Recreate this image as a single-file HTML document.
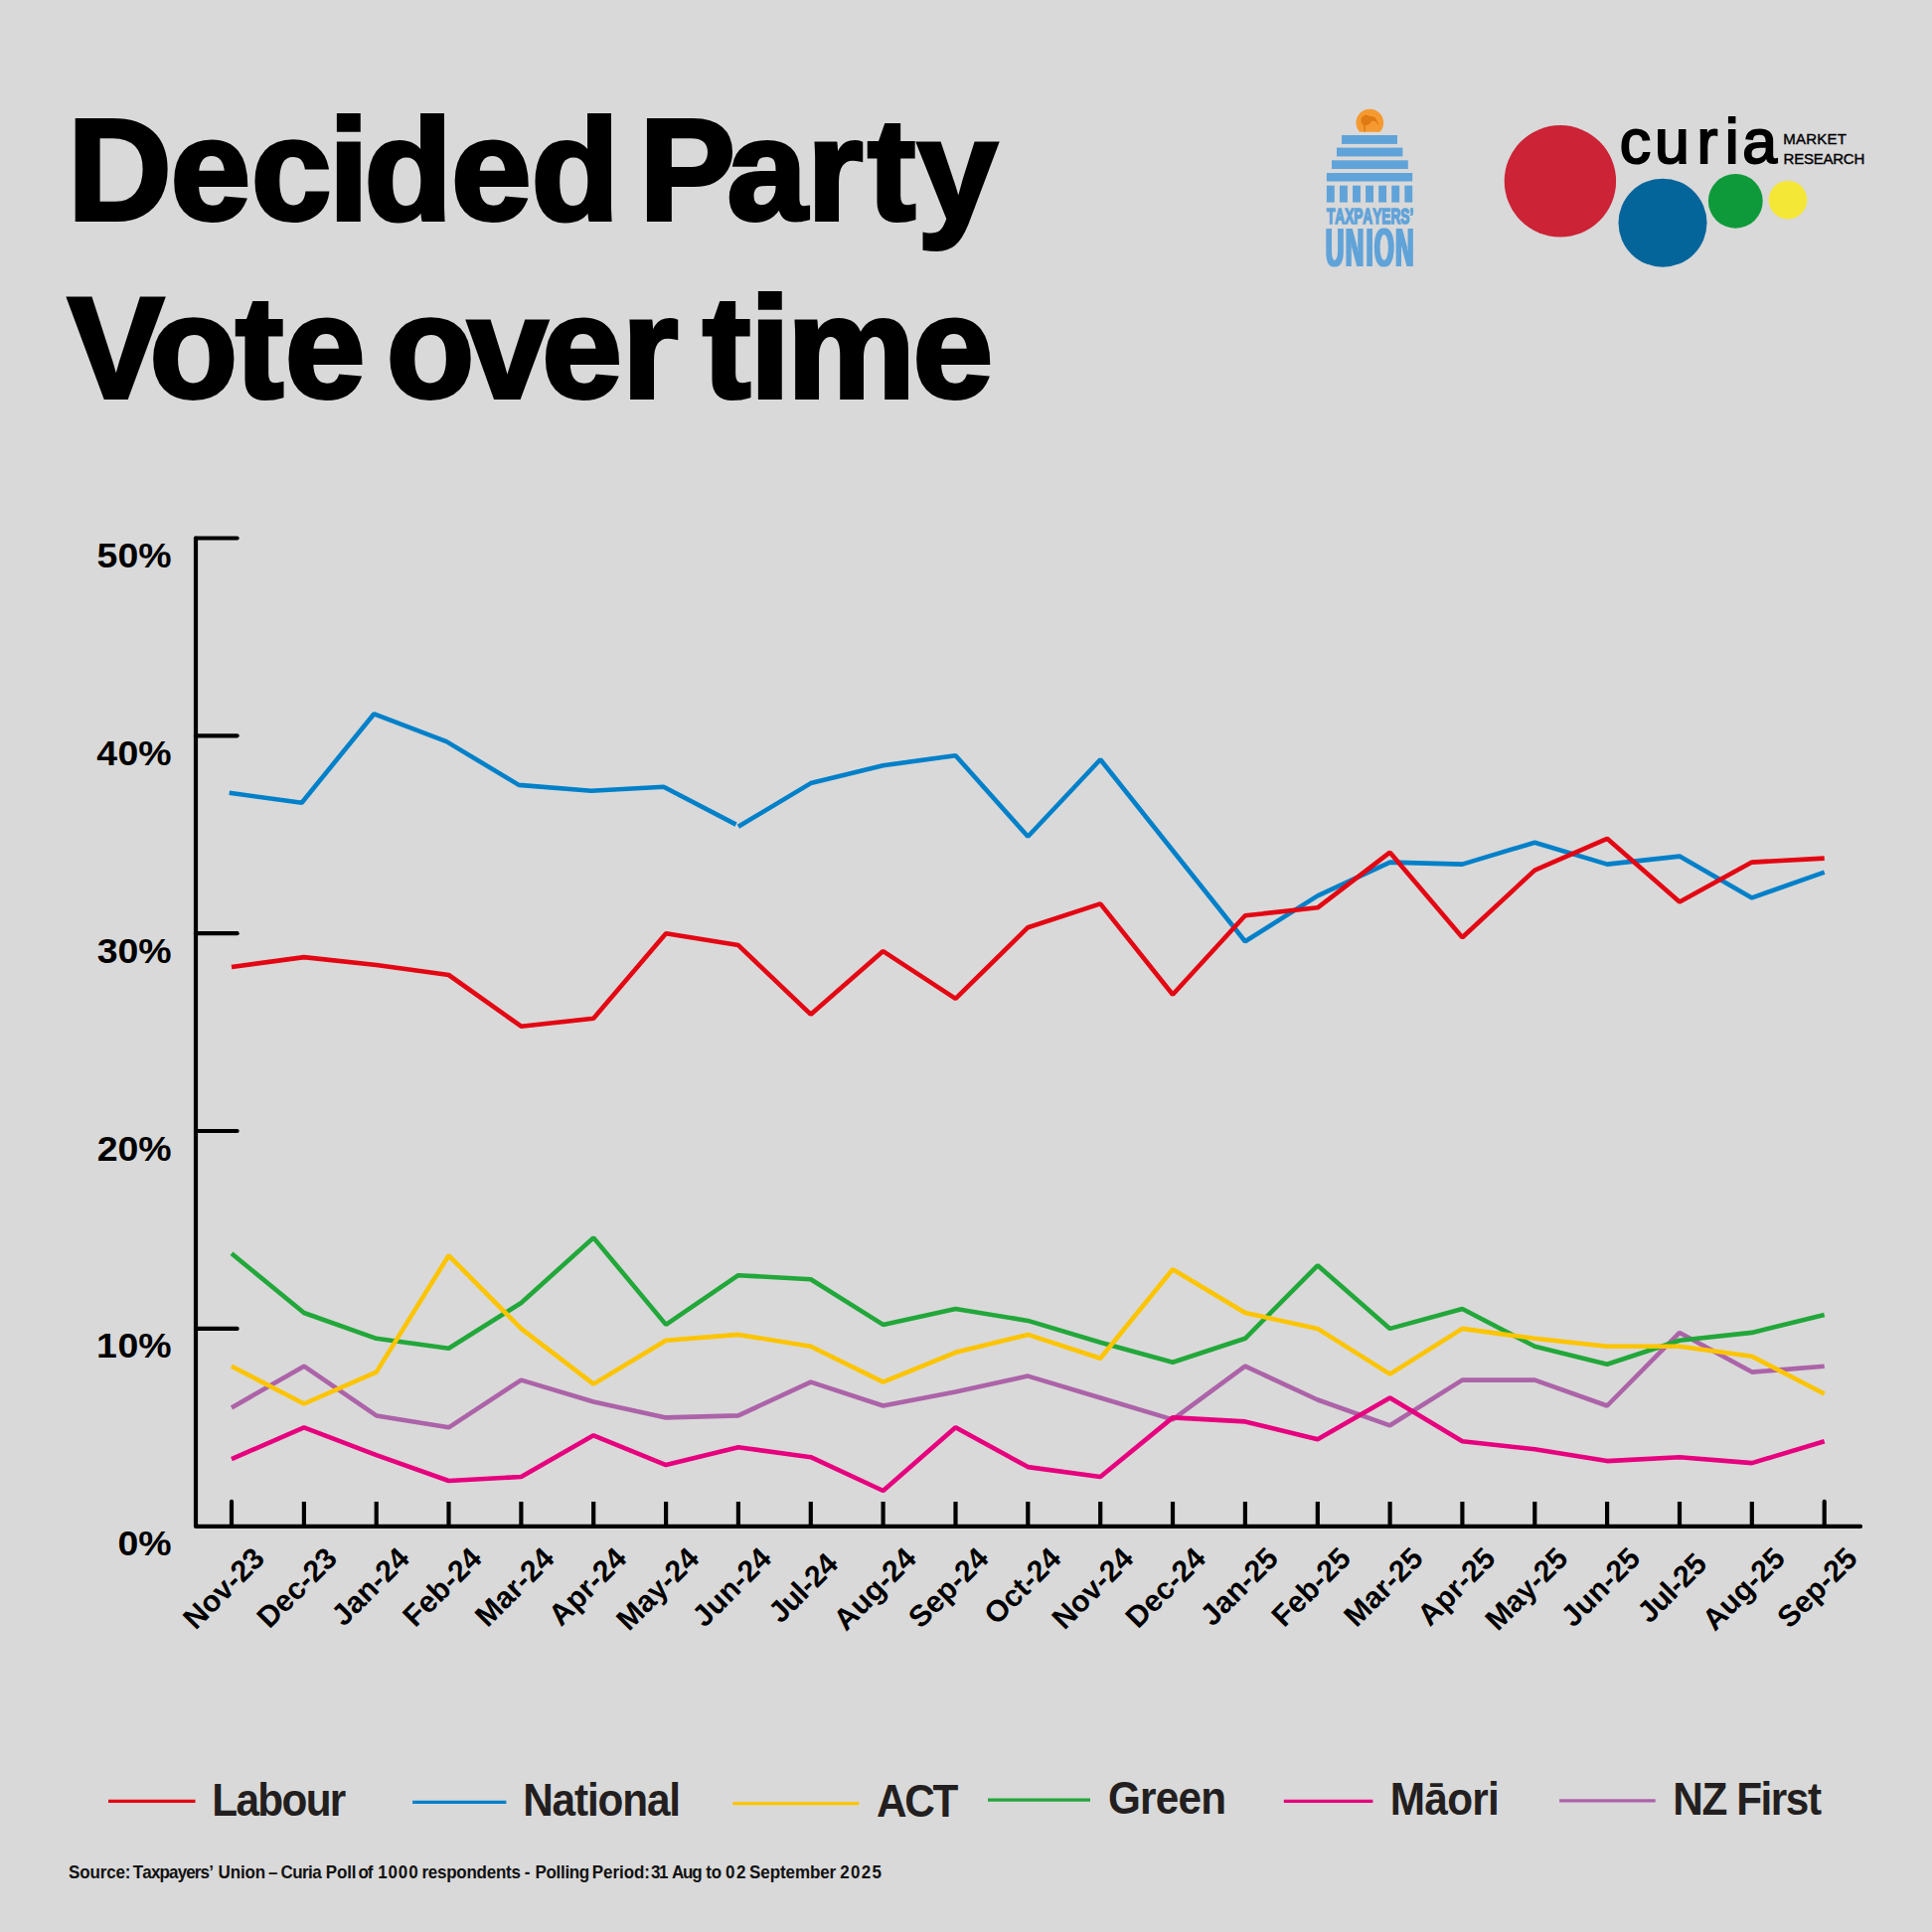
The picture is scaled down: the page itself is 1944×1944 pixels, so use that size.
<!DOCTYPE html>
<html lang="en"><head><meta charset="utf-8"><title>Decided Party Vote over time</title>
<style>html,body{margin:0;padding:0;background:#D9D9D9;}body{width:1944px;height:1944px;overflow:hidden;}svg{display:block;}text{font-family:"Liberation Sans",sans-serif;}</style></head><body>
<svg width="1944" height="1944" viewBox="0 0 1944 1944">
<rect width="1944" height="1944" fill="#D9D9D9"/>
<g font-weight="700" font-size="145" fill="#000" stroke="#000" stroke-width="4" stroke-linejoin="miter" stroke-miterlimit="2" transform="scale(1 1)">
<text x="68.1 171.6 252.8 330.7 366.5 453.9 534.6 633.0 643.3 731.5 812.0 873.1 923.1" y="220.5">Decided Party</text>
<text x="68.2 150.6 236.9 286.7 379.0 388.7 470.6 545.3 626.0 694.5 707.0 754.7 792.0 918.6" y="399.8">Vote over time</text>
</g>
<defs><filter id="dilx" x="-5%" y="-5%" width="110%" height="110%"><feMorphology operator="dilate" radius="2.3 0"/></filter></defs>
<g id="tu">
<clipPath id="coinclip"><rect x="1360" y="105" width="40" height="27.7"/></clipPath>
<g clip-path="url(#coinclip)"><circle cx="1378.3" cy="123.5" r="13.8" fill="#F59A30"/><path d="M1369.5 121.5c0-4 3.2-6.3 6.6-5.6c2 .4 3 1.6 4.6 1.4c1.8-.2 3.3.7 3.9 2.4l3.2 6.6l-4.4-4.6c-1.2.6-2.4.4-3.2-.2c-1.4 3.6-4 5-6.6 4.8l.6 6.4h-1.4l-1-6.8c-1.5-.9-2.3-2.5-2.3-4.400z" fill="#E07A12"/></g>
<rect x="1350.0" y="136.0" width="56.0" height="8.9" fill="#60A3D9"/>
<rect x="1345.0" y="148.6" width="66.4" height="8.8" fill="#60A3D9"/>
<rect x="1340.0" y="161.3" width="76.8" height="8.7" fill="#60A3D9"/>
<rect x="1334.9" y="174.0" width="86.3" height="8.5" fill="#60A3D9"/>
<rect x="1334.90" y="186.7" width="7.9" height="16.9" fill="#60A3D9"/>
<rect x="1347.97" y="186.7" width="7.9" height="16.9" fill="#60A3D9"/>
<rect x="1361.04" y="186.7" width="7.9" height="16.9" fill="#60A3D9"/>
<rect x="1374.11" y="186.7" width="7.9" height="16.9" fill="#60A3D9"/>
<rect x="1387.18" y="186.7" width="7.9" height="16.9" fill="#60A3D9"/>
<rect x="1400.25" y="186.7" width="7.9" height="16.9" fill="#60A3D9"/>
<rect x="1413.32" y="186.7" width="7.9" height="16.9" fill="#60A3D9"/>
<text transform="scale(0.6 1)" x="2224.9" y="225.5" font-weight="700" font-size="22.7" fill="#60A3D9" stroke="#60A3D9" stroke-width="1.3" vector-effect="non-scaling-stroke" letter-spacing="0.06" style="font-kerning:none">TAXPAYERS’</text>
<text transform="scale(0.47 1)" x="2837.7 2880.2 2924.3 2942.1 2987.2" y="267.8" font-weight="700" font-size="54.8" fill="#60A3D9" filter="url(#dilx)">UNION</text>
</g>
<g id="curia">
<circle cx="1569.9" cy="182.3" r="56.2" fill="#CC2336"/>
<circle cx="1673" cy="224.2" r="44.5" fill="#04659B"/>
<circle cx="1746.3" cy="202.3" r="27.4" fill="#0E9A3A"/>
<circle cx="1799" cy="201.2" r="19.3" fill="#F4E736"/>
<text x="1629.7 1665.0 1707.5 1735.8 1753.3" y="164.0" font-size="62.6" fill="#000" stroke="#000" stroke-width="2">curia</text>
<text x="1794.2" y="145.4" font-size="15" fill="#000" stroke="#000" stroke-width="0.4" letter-spacing="0.25" style="font-kerning:none">MARKET</text>
<text x="1794.6" y="165.3" font-size="15" fill="#000" stroke="#000" stroke-width="0.4" letter-spacing="-0.24" style="font-kerning:none">RESEARCH</text>
</g>
<g stroke="#000" stroke-width="4.2" fill="none" stroke-linecap="round" stroke-linejoin="round">
<path d="M197 541.5V1535.9H1872"/>
<path d="M197 1336.9H238.6"/>
<path d="M197 1138.0H238.6"/>
<path d="M197 939.2H238.6"/>
<path d="M197 740.3H238.6"/>
<path d="M197 541.5H238.6"/>
<path d="M233.0 1535.9V1510.9"/>
<path d="M1835.7 1535.9V1510.9"/>
</g>
<g stroke="#000" stroke-width="4.2" fill="none" stroke-linecap="butt">
<path d="M305.9 1535.9V1511"/>
<path d="M378.7 1535.9V1511"/>
<path d="M451.5 1535.9V1511"/>
<path d="M524.4 1535.9V1511"/>
<path d="M597.2 1535.9V1511"/>
<path d="M670.1 1535.9V1511"/>
<path d="M742.9 1535.9V1511"/>
<path d="M815.8 1535.9V1511"/>
<path d="M888.6 1535.9V1511"/>
<path d="M961.5 1535.9V1511"/>
<path d="M1034.3 1535.9V1511"/>
<path d="M1107.2 1535.9V1511"/>
<path d="M1180.0 1535.9V1511"/>
<path d="M1252.9 1535.9V1511"/>
<path d="M1325.8 1535.9V1511"/>
<path d="M1398.6 1535.9V1511"/>
<path d="M1471.4 1535.9V1511"/>
<path d="M1544.3 1535.9V1511"/>
<path d="M1617.1 1535.9V1511"/>
<path d="M1690.0 1535.9V1511"/>
<path d="M1762.8 1535.9V1511"/>
</g>
<g font-weight="700" font-size="35" fill="#000" transform="scale(1.07 1)">
<text x="110.8 130.1" y="1565.3">0%</text>
<text x="90.6 110.8 130.1" y="1366.5">10%</text>
<text x="91.3 110.8 130.1" y="1167.6">20%</text>
<text x="91.4 110.8 130.1" y="968.8">30%</text>
<text x="91.0 110.8 130.1" y="769.9">40%</text>
<text x="91.2 110.8 130.1" y="571.1">50%</text>
</g>
<g font-weight="700" font-size="30.2" fill="#000" text-anchor="end">
<text transform="translate(268.0 1569.8) rotate(-45)">Nov-23</text>
<text transform="translate(340.9 1569.8) rotate(-45)">Dec-23</text>
<text transform="translate(413.7 1569.8) rotate(-45)">Jan-24</text>
<text transform="translate(486.5 1569.8) rotate(-45)">Feb-24</text>
<text transform="translate(559.4 1569.8) rotate(-45)">Mar-24</text>
<text transform="translate(632.2 1569.8) rotate(-45)">Apr-24</text>
<text transform="translate(705.1 1569.8) rotate(-45)">May-24</text>
<text transform="translate(777.9 1569.8) rotate(-45)">Jun-24</text>
<text transform="translate(844.4 1575.9) rotate(-45)" letter-spacing="-0.7">Jul-24</text>
<text transform="translate(923.6 1569.8) rotate(-45)">Aug-24</text>
<text transform="translate(996.5 1569.8) rotate(-45)">Sep-24</text>
<text transform="translate(1069.3 1569.8) rotate(-45)">Oct-24</text>
<text transform="translate(1142.2 1569.8) rotate(-45)">Nov-24</text>
<text transform="translate(1215.0 1569.8) rotate(-45)">Dec-24</text>
<text transform="translate(1287.9 1569.8) rotate(-45)">Jan-25</text>
<text transform="translate(1360.8 1569.8) rotate(-45)">Feb-25</text>
<text transform="translate(1433.6 1569.8) rotate(-45)">Mar-25</text>
<text transform="translate(1506.4 1569.8) rotate(-45)">Apr-25</text>
<text transform="translate(1579.3 1569.8) rotate(-45)">May-25</text>
<text transform="translate(1652.1 1569.8) rotate(-45)">Jun-25</text>
<text transform="translate(1718.6 1575.9) rotate(-45)" letter-spacing="-0.7">Jul-25</text>
<text transform="translate(1797.8 1569.8) rotate(-45)">Aug-25</text>
<text transform="translate(1870.7 1569.8) rotate(-45)">Sep-25</text>
</g>
<g fill="none" stroke-width="4.6" stroke-linejoin="bevel" stroke-linecap="butt">
<polyline stroke="#AC63A8" points="233.0,1416.4 305.9,1374.7 378.7,1424.4 451.5,1436.3 524.4,1388.6 597.2,1410.5 670.1,1426.4 742.9,1424.4 815.8,1390.6 888.6,1414.5 961.5,1400.5 1034.3,1384.6 1107.2,1406.5 1180.0,1428.4 1252.9,1374.7 1325.8,1408.5 1398.6,1434.3 1471.4,1388.6 1544.3,1388.6 1617.1,1414.5 1690.0,1340.9 1762.8,1380.6 1835.7,1374.7"/>
<polyline stroke="#E6007E" points="233.0,1468.1 305.9,1436.3 378.7,1464.2 451.5,1490.0 524.4,1486.0 597.2,1444.3 670.1,1474.1 742.9,1456.2 815.8,1466.2 888.6,1500.0 961.5,1436.3 1034.3,1476.1 1107.2,1486.0 1180.0,1426.4 1252.9,1430.4 1325.8,1448.3 1398.6,1406.5 1471.4,1450.2 1544.3,1458.2 1617.1,1470.1 1690.0,1466.2 1762.8,1472.1 1835.7,1450.2"/>
<polyline stroke="#22A73A" points="233.0,1261.3 305.9,1321.0 378.7,1346.8 451.5,1356.8 524.4,1311.0 597.2,1245.4 670.1,1332.9 742.9,1283.2 815.8,1287.2 888.6,1332.9 961.5,1317.0 1034.3,1328.9 1107.2,1350.8 1180.0,1370.7 1252.9,1346.8 1325.8,1273.3 1398.6,1336.9 1471.4,1317.0 1544.3,1354.8 1617.1,1372.7 1690.0,1348.8 1762.8,1340.9 1835.7,1323.0"/>
<polyline stroke="#FDC400" points="233.0,1374.7 305.9,1412.5 378.7,1380.6 451.5,1263.3 524.4,1336.9 597.2,1392.6 670.1,1348.8 742.9,1342.9 815.8,1354.8 888.6,1390.6 961.5,1360.8 1034.3,1342.9 1107.2,1366.7 1180.0,1277.2 1252.9,1321.0 1325.8,1336.9 1398.6,1382.6 1471.4,1336.9 1544.3,1346.8 1617.1,1354.8 1690.0,1354.8 1762.8,1364.7 1835.7,1402.5"/>
<polyline stroke="#0080C9" points="230.7,797.8 303.6,807.7 376.4,718.3 449.2,746.1 522.1,789.9 595.0,795.8 667.8,791.8 740.6,829.6"/>
<polyline stroke="#0080C9" points="742.9,831.8 815.8,788.1 888.6,770.2 961.5,760.2 1034.3,841.8 1107.2,764.2 1180.0,855.7 1252.9,947.2 1325.8,901.4 1398.6,867.6 1471.4,869.6 1544.3,847.7 1617.1,869.6 1690.0,861.6 1762.8,903.4 1835.7,877.6"/>
<polyline stroke="#E30613" points="233.0,973.0 305.9,963.1 378.7,971.0 451.5,981.0 524.4,1032.7 597.2,1024.7 670.1,939.2 742.9,951.1 815.8,1020.7 888.6,957.1 961.5,1004.8 1034.3,933.2 1107.2,909.4 1180.0,1000.8 1252.9,921.3 1325.8,913.3 1398.6,857.7 1471.4,943.2 1544.3,875.6 1617.1,843.8 1690.0,907.4 1762.8,867.6 1835.7,863.6"/>
</g>
<g font-weight="700" font-size="46" fill="#231F20" style="font-kerning:none">
<path d="M109.0 1812.3H196.5" stroke="#E30613" stroke-width="3.2" fill="none"/>
<text transform="scale(0.92 1)" x="231.8" y="1826.8" letter-spacing="-1.81">Labour</text>
<path d="M415.1 1813.4H509.4" stroke="#0080C9" stroke-width="3.2" fill="none"/>
<text transform="scale(0.92 1)" x="571.9" y="1827.4" letter-spacing="-1.24">National</text>
<path d="M737.3 1814.6H864.3" stroke="#FDC400" stroke-width="3.2" fill="none"/>
<text transform="scale(0.92 1)" x="958.6" y="1828.4" letter-spacing="-2.48">ACT</text>
<path d="M994.0 1811.2H1097.0" stroke="#22A73A" stroke-width="3.2" fill="none"/>
<text transform="scale(0.92 1)" x="1211.9" y="1825.3" letter-spacing="-0.86">Green</text>
<path d="M1291.8 1812.4H1381.4" stroke="#E6007E" stroke-width="3.2" fill="none"/>
<text transform="scale(0.92 1)" x="1520.4" y="1826.5" letter-spacing="-0.74">Māori</text>
<path d="M1569.1 1811.8H1665.7" stroke="#AC63A8" stroke-width="3.2" fill="none"/>
<text transform="scale(0.92 1)" x="1829.7" y="1825.8" letter-spacing="-1.57">NZ First</text>
</g>
<text transform="scale(0.9 1)" y="1890.1" font-weight="700" font-size="18.9" fill="#111" style="font-kerning:none" xml:space="preserve"><tspan x="76.8" letter-spacing="-0.17">Source:</tspan> <tspan x="148.7" letter-spacing="-0.96">Taxpayers’</tspan> <tspan x="244.0" letter-spacing="-0.17">Union</tspan> <tspan x="300.0" letter-spacing="0.00">–</tspan> <tspan x="313.9" letter-spacing="-0.64">Curia</tspan> <tspan x="364.1" letter-spacing="-0.13">Poll</tspan> <tspan x="400.5" letter-spacing="-1.14">of</tspan> <tspan x="422.4" letter-spacing="0.97">1000</tspan> <tspan x="471.6" letter-spacing="-0.28">respondents</tspan> <tspan x="586.4" letter-spacing="0.00">-</tspan>  <tspan x="598.4" letter-spacing="-0.37">Polling</tspan> <tspan x="662.0" letter-spacing="-0.06">Period:</tspan> <tspan x="727.8" letter-spacing="-1.62">31</tspan> <tspan x="751.1" letter-spacing="-1.34">Aug</tspan> <tspan x="789.2" letter-spacing="-0.09">to</tspan> <tspan x="811.0" letter-spacing="1.93">02</tspan> <tspan x="837.8" letter-spacing="-0.09">September</tspan> <tspan x="939.3" letter-spacing="1.42">2025</tspan></text>
</svg></body></html>
